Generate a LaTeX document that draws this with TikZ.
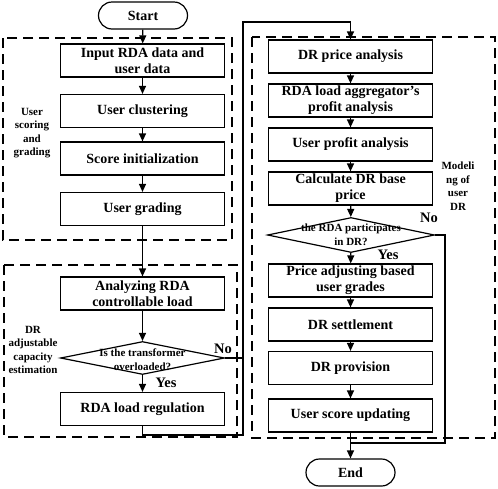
\documentclass[tikz,border=0pt]{standalone}
\usepackage{fontspec}
\setmainfont{Liberation Serif}
\usetikzlibrary{shapes.geometric,arrows.meta}
\begin{document}
\begin{tikzpicture}[x=1pt,y=-1pt,
  font=\bfseries\fontsize{14}{16}\selectfont,
  box/.style={draw,line width=1.2pt,minimum width=164pt,minimum height=33pt,align=center,inner sep=1pt},
  term/.style={draw,line width=1.2pt,rounded corners=13.5pt,minimum width=89pt,minimum height=27pt},
  dia/.style={draw,diamond,line width=1.2pt,inner sep=0pt},
  dtext/.style={align=center,font=\bfseries\fontsize{11}{14}\selectfont},
  side/.style={align=center,font=\bfseries\fontsize{11}{13.5}\selectfont},
  group/.style={draw,line width=1.5pt,dash pattern=on 10pt off 6pt},
  flow/.style={line width=1.2pt,-{Triangle[length=8pt,width=7pt]}},
  link/.style={line width=1.2pt}]
\useasboundingbox (0,0) rectangle (498,488);
% dashed groups
\draw[group] (3,38) rectangle (232,240);
\draw[group] (4,265) rectangle (237,437);
\draw[group] (252,37) rectangle (495,438);
\node[side] (lab1) at (32,133) {User\\scoring\\and\\grading};
\node[side] (lab2) at (33,350) {DR\\adjustable\\capacity\\estimation};
\node[side] (lab3) at (458,186) {Modeli\\ng of\\user\\DR};
% left column
\node[term] (start) at (143,15.5) {Start};
\node[box] (input) at (142.5,60.5) {Input RDA data and\\user data};
\node[box] (cluster) at (142.5,111) {User clustering};
\node[box] (scoreinit) at (142.5,158.5) {Score initialization};
\node[box] (grading) at (142.5,209) {User grading};
\node[box] (analyze) at (142.5,293.5) {Analyzing RDA\\controllable load};
\node[dia,minimum width=164pt,minimum height=33pt,
  label={[dtext,yshift=-1.5pt]center:Is the transformer\\overloaded?}] (overload) at (142.5,358) {};
\node[box] (regulate) at (142.5,409) {RDA load regulation};
\node[font=\bfseries\fontsize{14.5}{16}\selectfont] (no1) at (223,349) {No};
\node[font=\bfseries\fontsize{14.5}{16}\selectfont] (yes1) at (166,383) {Yes};
% right column
\node[box] (price) at (350.5,56.5) {DR price analysis};
\node[box] (aggregator) at (350.5,100.5) {RDA load aggregator’s\\profit analysis};
\node[box] (userprofit) at (350.5,144.5) {User profit analysis};
\node[box] (baseprice) at (350.5,188.5) {Calculate DR base\\price};
\node[dia,minimum width=167pt,minimum height=35pt,
  label={[dtext]center:the RDA participates\\in DR?}] (participate) at (351,235) {};
\node[box] (adjust) at (350.5,280.5) {Price adjusting based\\user grades};
\node[box] (settle) at (350.5,324.5) {DR settlement};
\node[box] (provision) at (350.5,368) {DR provision};
\node[box] (updating) at (350.5,415.5) {User score updating};
\node[term] (end) at (350.5,472.5) {End};
\node[font=\bfseries\fontsize{14.5}{16}\selectfont] (no2) at (429,218) {No};
\node[font=\bfseries\fontsize{14.5}{16}\selectfont] (yes2) at (388,255) {Yes};
% connectors
\draw[flow] (start) -- (input);
\draw[flow] (input) -- (cluster);
\draw[flow] (cluster) -- (scoreinit);
\draw[flow] (scoreinit) -- (grading);
\draw[flow] (grading) -- (analyze);
\draw[flow] (analyze) -- (overload);
\draw[flow] (overload) -- (regulate);
\coordinate (fbB) at (243,435);
\coordinate (fbT) at (243,22);
\draw[flow] (regulate.south) |- (fbB) -- (fbT) -| (price.north);
\draw[link] (overload.east) -- (overload.east -| fbB);
\draw[flow] (price) -- (aggregator);
\draw[flow] (aggregator) -- (userprofit);
\draw[flow] (userprofit) -- (baseprice);
\draw[flow] (baseprice) -- (participate);
\draw[flow] (participate) -- (adjust);
\draw[flow] (adjust) -- (settle);
\draw[flow] (settle) -- (provision);
\draw[flow] (provision) -- (updating);
\draw[flow] (updating) -- (end);
\coordinate (skip) at (445,443);
\draw[link] (participate.east) -| (skip) -- (skip -| end.north);
\end{tikzpicture}
\end{document}
